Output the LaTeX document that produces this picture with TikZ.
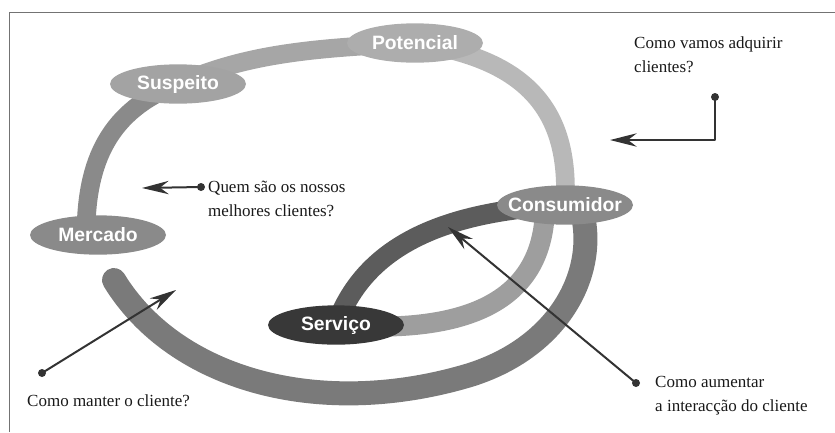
\documentclass[tikz,border=0pt]{standalone}
\usepackage{fontspec}
\setmainfont{Liberation Serif}
\newfontfamily\blobfont{Liberation Sans}
\usetikzlibrary{shapes.geometric,arrows.meta}
\pgfdeclarelayer{bands}
\pgfsetlayers{bands,main}
\begin{document}
\begin{tikzpicture}[x=0.3mm, y=-0.3mm, line join=round,
	>={Stealth[length=8mm,width=4mm,inset=2.6mm]},
	blob/.style={ellipse, minimum width=40.8mm, minimum height=11.8mm, inner sep=0pt},
	blobtext/.style={text=white, font={\blobfont\bfseries\fontsize{16.5}{18}\selectfont}},
	band/.style={line width=5.6mm, line cap=butt},
	qtext/.style={align=left, anchor=west, inner sep=0pt, text=black!90,
		font={\fontsize{14.5}{20.5}\selectfont}},
	pointer/.style={->, draw=black!80, line width=0.6mm},
	dot/.style={fill=black!80}]
	\useasboundingbox (0,0) rectangle (835,432);
	\draw[black!55, line width=0.3mm] (9,432)--(9,12)--(835,12);
	% etapas
	\node[blob, fill=black!36, label={[blobtext]center:Suspeito}] (susp) at (178,84) {};
	\node[blob, fill=black!32, label={[blobtext]center:Potencial}] (pot) at (415,43) {};
	\node[blob, fill=black!46, label={[blobtext]center:Mercado}] (merc) at (98,235) {};
	\node[blob, fill=black!46, label={[blobtext]center:Consumidor}] (cons) at (565,205) {};
	\node[blob, fill=black!78, label={[blobtext]center:Serviço}] (serv) at (336,325) {};
	\coordinate (tail) at (114,280);
	% faixas
	\begin{pgfonlayer}{bands}
		\draw[band, black!35] (susp.center) .. controls (250,52) and (320,48) .. (pot.center);
		\draw[band, black!46] (susp.center) .. controls (110,110) and (86,160) .. ([xshift=-3.6mm]merc.center);
		\draw[band, black!28] (pot.center) .. controls (535,60) and (570,118) .. (cons.center);
		\draw[band, black!64, line width=6mm] (serv.center) .. controls (360,260) and (420,212) .. (cons.center);
		\draw[band, black!38, line width=6mm] (serv.center) .. controls (470,335) and (545,300) .. ([xshift=-6mm]cons.center);
		\draw[band, black!52, line width=7.2mm, line cap=round] (tail) .. controls (175,380) and (320,420) .. (470,375)
			.. controls (565,345) and (600,265) .. ([xshift=4.5mm]cons.center);
	\end{pgfonlayer}
	% perguntas
	\node[qtext] (quem) at (208,199) {Quem são os nossos\\melhores clientes?};
	\node[qtext, anchor=north west] (adq) at (634,36) {Como vamos adquirir\\clientes?};
	\node[qtext] (mant) at (27,401) {Como manter o cliente?};
	\node[qtext] (aum) at (655,396) {Como aumentar\\a interacção do cliente};
	\coordinate (quemdot) at (201,187);
	\coordinate (quemtip) at (142,188);
	\coordinate (adqdot) at (715,97);
	\coordinate (adqtip) at (610,140);
	\coordinate (mantdot) at (42,373);
	\coordinate (manttip) at (176,290);
	\coordinate (aumdot) at (636,383);
	\coordinate (aumtip) at (448,227);
	\draw[pointer] (quemdot)--(quemtip);
	\draw[pointer] (adqdot)|-(adqtip);
	\draw[pointer] (mantdot)--(manttip);
	\draw[pointer] (aumdot)--(aumtip);
	\foreach \d in {quemdot,adqdot,mantdot,aumdot}
		\fill[dot] (\d) circle (1.2mm);
\end{tikzpicture}
\end{document}
